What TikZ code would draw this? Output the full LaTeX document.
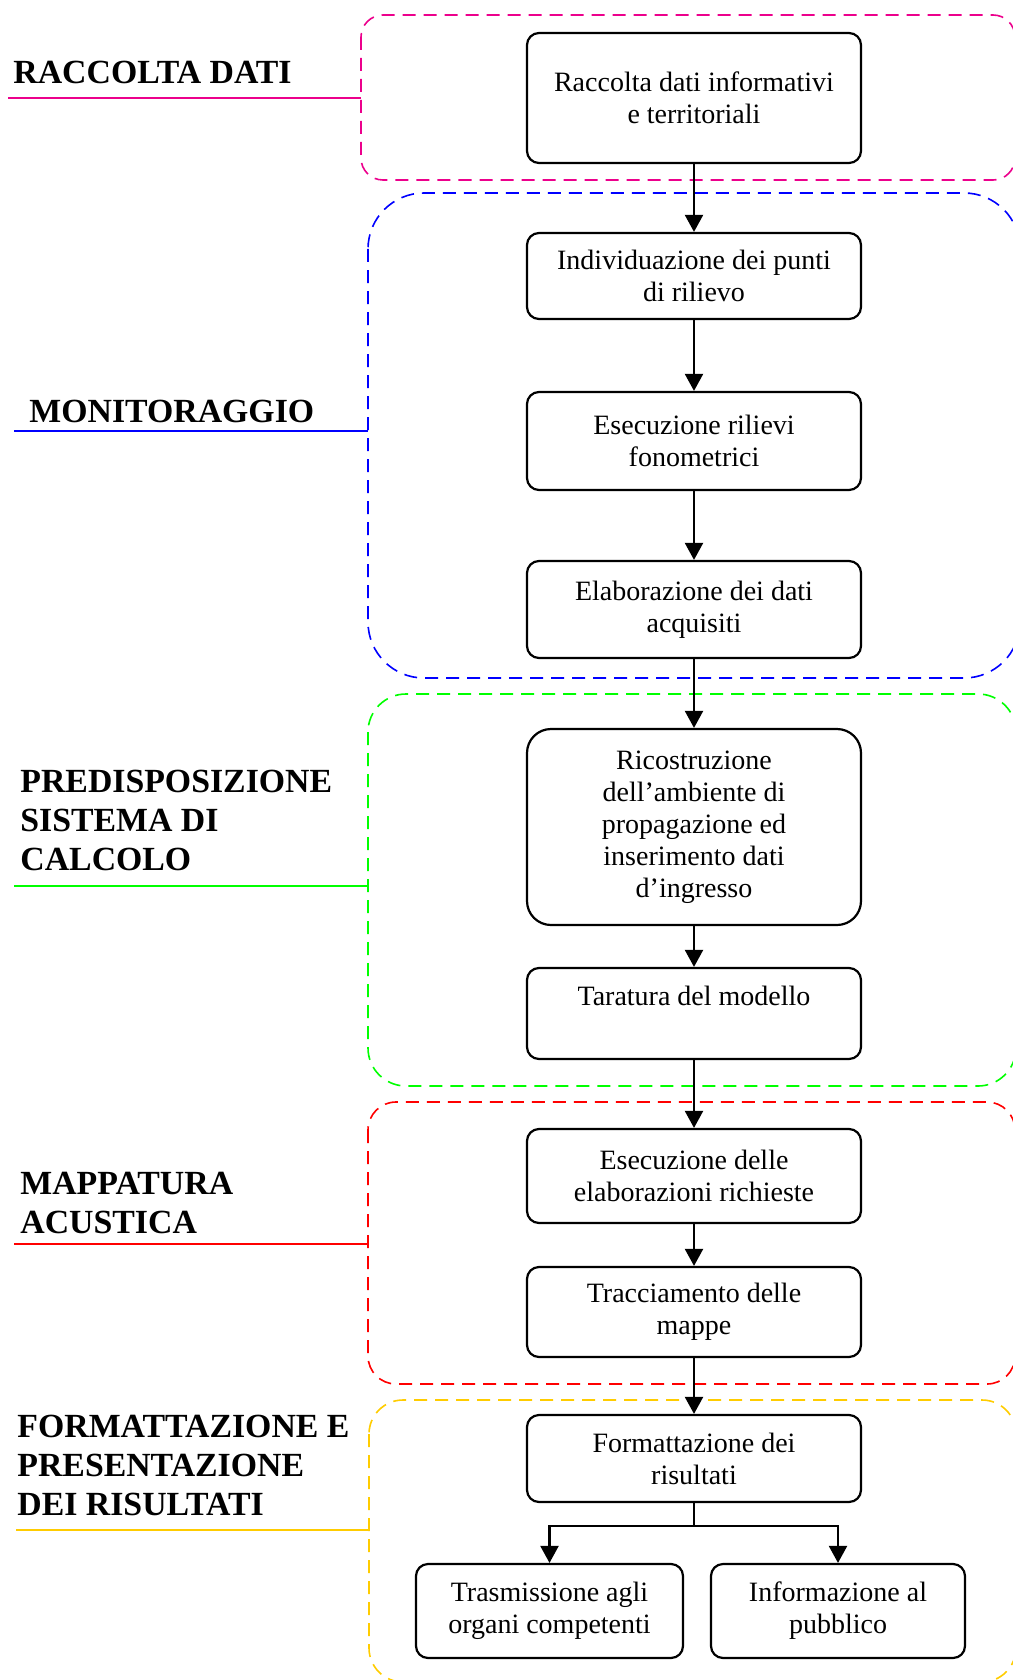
\documentclass[tikz,border=0pt]{standalone}
\usepackage{fontspec}
\setmainfont{Liberation Serif}
\usetikzlibrary{arrows.meta,positioning}
\definecolor{giallo}{RGB}{255,204,0}
\tikzset{blocco/.style={draw, line width=1.1pt, rounded corners=6pt, align=center,
    minimum width=167pt, inner sep=2pt, font=\fontsize{14}{16}\selectfont}}
\tikzset{gruppo/.style={draw=#1, dash pattern=on 6.5pt off 4pt, line width=.8pt}}
\tikzset{fase/.style={anchor=south west, inner sep=0pt, align=left,
    font=\fontsize{16.9}{19.5}\selectfont\bfseries}}
\tikzset{freccia/.style={line width=1.1pt, -{Triangle[width=9pt,length=8.5pt]}}}

\begin{document}
\begin{tikzpicture}[x=.5pt, y=-.5pt]
  \useasboundingbox (0,0) rectangle (1012,1680);
  % gruppi tratteggiati
  \draw[gruppo=magenta, rounded corners=11pt] (361,15) rectangle (1015,180);
  \draw[gruppo=blue, rounded corners=28pt] (368,193) rectangle (1020,678);
  \draw[gruppo=green, rounded corners=19pt] (368,694) rectangle (1016,1086);
  \draw[gruppo=red, rounded corners=14pt] (368,1102) rectangle (1015,1384);
  \draw[gruppo=giallo, rounded corners=17pt] (369,1400) rectangle (1016,1682);

  % fasi
  \node[fase] (lRaccolta) at (13,84) {RACCOLTA DATI};
  \draw[magenta, line width=.8pt] (8,98) -- (361,98);
  \node[fase] (lMonitor) at (29,423) {MONITORAGGIO};
  \draw[blue, line width=.8pt] (14,431) -- (368,431);
  \node[fase] (lCalcolo) at (20,871) {PREDISPOSIZIONE\\SISTEMA DI\\CALCOLO};
  \draw[green, line width=.8pt] (14,886) -- (368,886);
  \node[fase] (lMappa) at (20,1234) {MAPPATURA\\ACUSTICA};
  \draw[red, line width=.8pt] (14,1244) -- (368,1244);
  \node[fase] (lRisultati) at (17,1516) {FORMATTAZIONE E\\PRESENTAZIONE\\DEI RISULTATI};
  \draw[giallo, line width=.8pt] (16,1530) -- (369,1530);

  % blocchi
  \node[blocco, minimum height=65pt] (raccolta) at (694,98) {Raccolta dati informativi\\e territoriali};
  \node[blocco, minimum height=43pt] (punti) at (694,276) {Individuazione dei punti\\di rilievo};
  \node[blocco, minimum height=49pt] (rilievi) at (694,441) {Esecuzione rilievi\\fonometrici};
  \node[blocco, minimum height=48.5pt] (elabDati) at (694,609.5) {Elaborazione dei dati\\acquisiti};
  \node[blocco, minimum height=98pt, rounded corners=12pt] (ambiente) at (694,827)
    {Ricostruzione\\dell'ambiente di\\propagazione ed\\inserimento dati\\d'ingresso};
  \node[blocco, minimum height=45.5pt] (taratura) at (694,1013.5) {Taratura del modello\\[-3pt]\strut};
  \node[blocco, minimum height=47pt] (elabRich) at (694,1176) {Esecuzione delle\\elaborazioni richieste};
  \node[blocco, minimum height=45pt] (mappe) at (694,1312) {Tracciamento delle\\mappe};
  \node[blocco, minimum height=43.5pt] (formatta) at (694,1458.5) {Formattazione dei\\risultati};
  \node[blocco, minimum height=47pt, minimum width=133.5pt] (trasmissione) at (549.5,1611)
    {Trasmissione agli\\organi competenti};
  \node[blocco, minimum height=47pt, minimum width=127pt] (pubblico) at (838,1611)
    {Informazione al\\pubblico};

  % frecce
  \draw[freccia] (raccolta) -- (punti);
  \draw[freccia] (punti) -- (rilievi);
  \draw[freccia] (rilievi) -- (elabDati);
  \draw[freccia] (elabDati) -- (ambiente);
  \draw[freccia] (ambiente) -- (taratura);
  \draw[freccia] (taratura) -- (elabRich);
  \draw[freccia] (elabRich) -- (mappe);
  \draw[freccia] (mappe) -- (formatta);
  \draw[freccia] (formatta.south) -- ++(0,23) -| (trasmissione.north);
  \draw[freccia] (formatta.south) -- ++(0,23) -| (pubblico.north);
\end{tikzpicture}
\end{document}
